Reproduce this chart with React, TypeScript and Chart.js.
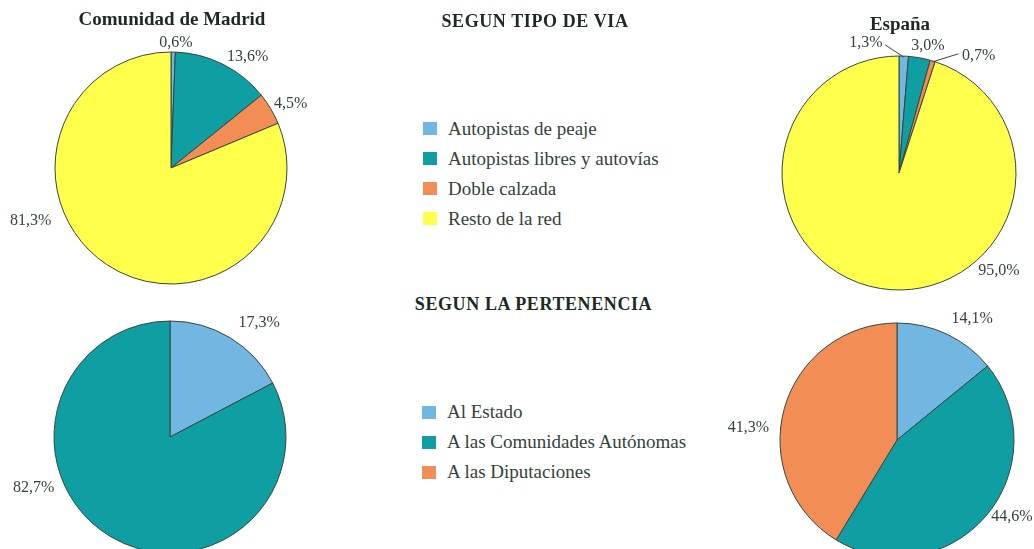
import React, { useEffect, useRef } from "react";
import { Chart, registerables } from "chart.js";

Chart.register(...registerables);

// ---------- data ----------
const tipoViaCategories = [
  "Autopistas de peaje",
  "Autopistas libres y autovías",
  "Doble calzada",
  "Resto de la red",
];
const madridTipoVia = [0.6, 13.6, 4.5, 81.3];
const espanaTipoVia = [1.3, 3.0, 0.7, 95.0];

const pertenenciaCategories = ["Al Estado", "A las Comunidades Autónomas", "A las Diputaciones"];
const madridPertenencia = [17.3, 82.7];
const espanaPertenencia = [14.1, 44.6, 41.3];

const titleMadrid = "Comunidad de Madrid";
const titleEspana = "España";
const titleTipoVia = "SEGUN TIPO DE VIA";
const titlePertenencia = "SEGUN LA PERTENENCIA";

// ---------- styles ----------
const sliceColors = ["#72b6e2", "#0f9fa2", "#f28d56", "#ffff4c"];
const borderColor = "#35463f";
const textColor = "#34423b";
const titleColor = "#1c2a22";
const serif = '"Liberation Serif", "Times New Roman", serif';

type Place = { angle: number; dist: number; leader?: { angle: number; dist: number } };

// label placement: angle in degrees clockwise from 12 o'clock, distance from pie centre
const placesMadridVia: Place[] = [
  { angle: 2.3, dist: 125 },
  { angle: 34.6, dist: 135 },
  { angle: 61.6, dist: 136 },
  { angle: 249.2, dist: 150 },
];
const placesEspanaVia: Place[] = [
  { angle: 345.7, dist: 134, leader: { angle: 353.8, dist: 129 } },
  { angle: 12.9, dist: 130 },
  { angle: 34.3, dist: 141.5, leader: { angle: 26.4, dist: 133 } },
  { angle: 134.4, dist: 140 },
];
const placesMadridPert: Place[] = [
  { angle: 37.9, dist: 145 },
  { angle: 249.6, dist: 145.5 },
];
const placesEspanaPert: Place[] = [
  { angle: 31.7, dist: 143 },
  { angle: 123.6, dist: 138 },
  { angle: 274.7, dist: 149 },
];

const fmt = (v: number) => v.toFixed(1).replace(".", ",") + "%";

const outerLabels = {
  id: "outerLabels",
  afterDatasetsDraw(chart: any, _args: any, opts: any) {
    const meta = chart.getDatasetMeta(0);
    const data = chart.data.datasets[0].data as number[];
    const ctx = chart.ctx as CanvasRenderingContext2D;
    ctx.save();
    ctx.font = `16px ${serif}`;
    ctx.fillStyle = textColor;
    ctx.strokeStyle = textColor;
    ctx.lineWidth = 1;
    ctx.textAlign = "center";
    ctx.textBaseline = "middle";
    meta.data.forEach((arc: any, i: number) => {
      const place: Place | undefined = opts.places[i];
      if (!place) return;
      const p = arc.getProps(["x", "y", "outerRadius", "startAngle", "endAngle"], true);
      const a = ((place.angle - 90) * Math.PI) / 180;
      const lx = p.x + Math.cos(a) * place.dist;
      const ly = p.y + Math.sin(a) * place.dist;
      if (place.leader) {
        const mid = (p.startAngle + p.endAngle) / 2;
        const b = ((place.leader.angle - 90) * Math.PI) / 180;
        ctx.beginPath();
        ctx.moveTo(p.x + Math.cos(mid) * (p.outerRadius - 1), p.y + Math.sin(mid) * (p.outerRadius - 1));
        ctx.lineTo(p.x + Math.cos(b) * place.leader.dist, p.y + Math.sin(b) * place.leader.dist);
        ctx.stroke();
      }
      ctx.fillText(fmt(data[i]), lx, ly);
    });
    ctx.restore();
  },
};

const CANVAS = 400;

function Pie({ values, places, cx, cy, r }: { values: number[]; places: Place[]; cx: number; cy: number; r: number }) {
  const ref = useRef<HTMLCanvasElement | null>(null);
  useEffect(() => {
    if (!ref.current) return;
    const pad = CANVAS / 2 - r - 0.5;
    const chart = new Chart(ref.current, {
      type: "pie",
      data: {
        labels: values.map((_, i) => String(i)),
        datasets: [
          {
            data: values,
            backgroundColor: sliceColors.slice(0, values.length),
            borderColor: borderColor,
            borderWidth: 1,
            hoverOffset: 0,
            offset: 0,
          },
        ],
      },
      options: {
        animation: false,
        responsive: false,
        events: [],
        layout: { padding: pad },
        plugins: {
          legend: { display: false },
          tooltip: { enabled: false },
          outerLabels: { places },
        } as any,
      },
      plugins: [outerLabels as any],
    });
    return () => chart.destroy();
  }, []);
  return (
    <canvas
      ref={ref}
      width={CANVAS}
      height={CANVAS}
      style={{ position: "absolute", left: cx - CANVAS / 2, top: cy - CANVAS / 2, width: CANVAS, height: CANVAS }}
    />
  );
}

function Text({ children, x, top, size, bold, align = "center", spacing = 0, color = titleColor }: any) {
  return (
    <div
      style={{
        position: "absolute",
        left: x,
        top,
        transform: align === "center" ? "translateX(-50%)" : undefined,
        fontFamily: serif,
        fontSize: size,
        fontWeight: bold ? "bold" : "normal",
        lineHeight: 1,
        whiteSpace: "nowrap",
        letterSpacing: spacing,
        color,
      }}
    >
      {children}
    </div>
  );
}

function Legend({ items, x, top, step }: { items: string[]; x: number; top: number; step: number }) {
  return (
    <>
      {items.map((label, i) => (
        <React.Fragment key={label}>
          <div
            style={{
              position: "absolute",
              left: x,
              top: top + i * step + 3.5,
              width: 14,
              height: 13,
              background: sliceColors[i],
            }}
          />
          <Text x={x + 25} top={top + i * step} size={19} align="left" color={textColor}>
            {label}
          </Text>
        </React.Fragment>
      ))}
    </>
  );
}

export default function App() {
  useEffect(() => {
    document.body.style.margin = "0";
    document.body.style.overflow = "hidden";
  }, []);
  return (
    <div style={{ position: "relative", width: 1034, height: 549, overflow: "hidden", background: "#ffffff" }}>
      <Pie values={madridTipoVia} places={placesMadridVia} cx={171} cy={168} r={116} />
      <Pie values={espanaTipoVia} places={placesEspanaVia} cx={899} cy={173} r={117} />
      <Pie values={madridPertenencia} places={placesMadridPert} cx={170} cy={437} r={116} />
      <Pie values={espanaPertenencia} places={placesEspanaPert} cx={897} cy={440} r={117} />

      <Text x={172} top={9} size={19} bold>
        {titleMadrid}
      </Text>
      <Text x={900} top={13.5} size={19} bold>
        {titleEspana}
      </Text>
      <Text x={535} top={11.5} size={18} bold spacing={0.6}>
        {titleTipoVia}
      </Text>
      <Text x={533.5} top={295} size={18} bold spacing={0.6}>
        {titlePertenencia}
      </Text>

      <Legend items={tipoViaCategories} x={423} top={118.5} step={30} />
      <Legend items={pertenenciaCategories} x={422} top={402} step={30.2} />
    </div>
  );
}
